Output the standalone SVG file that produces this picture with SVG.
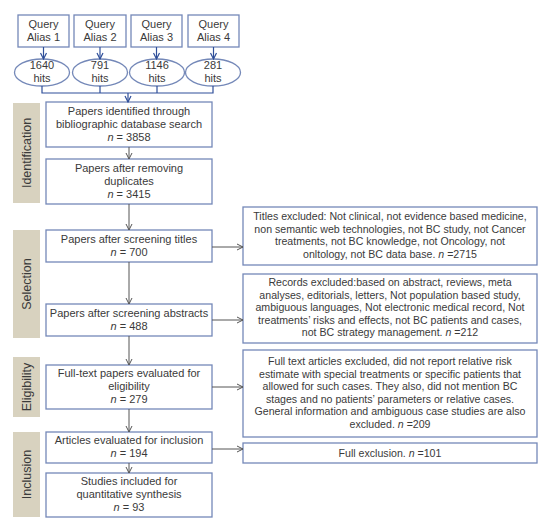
<svg xmlns="http://www.w3.org/2000/svg" width="550" height="528" viewBox="0 0 550 528">
<defs>
<marker id="ah" markerWidth="8" markerHeight="8" refX="7" refY="4" orient="auto" markerUnits="userSpaceOnUse">
<path d="M1,1 L7,4 L1,7" fill="none" stroke="#555" stroke-width="1"/>
</marker>
<marker id="ahb" markerWidth="8" markerHeight="8" refX="7" refY="4" orient="auto" markerUnits="userSpaceOnUse">
<path d="M1,1 L7,4 L1,7" fill="none" stroke="#2f4f9a" stroke-width="1.2"/>
</marker>
<style>
.bx{fill:#fff;stroke:#7488b8;stroke-width:1.3}
.t{font-family:"Liberation Sans",Arial,sans-serif;font-size:11px;fill:#3a3a3a;text-anchor:middle}
.r{font-family:"Liberation Sans",Arial,sans-serif;font-size:10.6px;fill:#3a3a3a;text-anchor:middle}
.side{fill:#d8d2bf}
.sl{font-family:"Liberation Sans",Arial,sans-serif;font-size:12.5px;fill:#3a3a3a;text-anchor:middle}
.c{fill:none;stroke:#555;stroke-width:1}
.cb{fill:none;stroke:#2f4f9a;stroke-width:1.2}
</style>
</defs>
<rect width="550" height="528" fill="#fff"/>

<g id="sides">
<g id="side-identification"><rect class="side" x="13" y="103" width="27" height="100"/><text class="sl" transform="translate(31,153) rotate(-90)">Identification</text></g>
<g id="side-selection"><rect class="side" x="13" y="230" width="27" height="108"/><text class="sl" transform="translate(31,284) rotate(-90)">Selection</text></g>
<g id="side-eligibility"><rect class="side" x="13" y="357" width="27" height="60"/><text class="sl" transform="translate(31,387) rotate(-90)">Eligibility</text></g>
<g id="side-inclusion"><rect class="side" x="13" y="432" width="27" height="85"/><text class="sl" transform="translate(31,474.5) rotate(-90)">Inclusion</text></g>
</g>

<g id="q1"><rect class="bx" x="18" y="15" width="51" height="32"/><text class="t" x="43.5" y="28">Query</text><text class="t" x="43.5" y="41">Alias 1</text></g>
<g id="q2"><rect class="bx" x="74" y="15" width="52" height="32"/><text class="t" x="100" y="28">Query</text><text class="t" x="100" y="41">Alias 2</text></g>
<g id="q3"><rect class="bx" x="131" y="15" width="51" height="32"/><text class="t" x="156.5" y="28">Query</text><text class="t" x="156.5" y="41">Alias 3</text></g>
<g id="q4"><rect class="bx" x="188" y="15" width="51" height="32"/><text class="t" x="213.5" y="28">Query</text><text class="t" x="213.5" y="41">Alias 4</text></g>

<g id="h1"><ellipse class="bx" cx="42" cy="72.5" rx="27.5" ry="13.5"/><text class="t" x="42" y="69">1640</text><text class="t" x="42" y="82">hits</text></g>
<g id="h2"><ellipse class="bx" cx="100" cy="72.5" rx="27.5" ry="13.5"/><text class="t" x="100" y="69">791</text><text class="t" x="100" y="82">hits</text></g>
<g id="h3"><ellipse class="bx" cx="157" cy="72.5" rx="27.5" ry="13.5"/><text class="t" x="157" y="69">1146</text><text class="t" x="157" y="82">hits</text></g>
<g id="h4"><ellipse class="bx" cx="213" cy="72.5" rx="27.5" ry="13.5"/><text class="t" x="213" y="69">281</text><text class="t" x="213" y="82">hits</text></g>

<g id="n1"><rect class="bx" x="46" y="102" width="166" height="45"/><text class="t" x="129" y="115">Papers identified through</text><text class="t" x="129" y="128">bibliographic database search</text><text class="t" x="129" y="141"><tspan font-style="italic">n</tspan> = 3858</text></g>
<g id="n2"><rect class="bx" x="46" y="159" width="166" height="45"/><text class="t" x="129" y="172">Papers after removing</text><text class="t" x="129" y="185">duplicates</text><text class="t" x="129" y="198"><tspan font-style="italic">n</tspan> = 3415</text></g>
<g id="n3"><rect class="bx" x="46" y="230" width="166" height="32"/><text class="t" x="129" y="243">Papers after screening titles</text><text class="t" x="129" y="256"><tspan font-style="italic">n</tspan> = 700</text></g>
<g id="n4"><rect class="bx" x="46" y="304" width="166" height="32"/><text class="t" x="129" y="317">Papers after screening abstracts</text><text class="t" x="129" y="330"><tspan font-style="italic">n</tspan> = 488</text></g>
<g id="n5"><rect class="bx" x="46" y="365" width="166" height="44"/><text class="t" x="129" y="377">Full-text papers evaluated for</text><text class="t" x="129" y="390">eligibility</text><text class="t" x="129" y="403"><tspan font-style="italic">n</tspan> = 279</text></g>
<g id="n6"><rect class="bx" x="46" y="432" width="166" height="31"/><text class="t" x="129" y="444">Articles evaluated for inclusion</text><text class="t" x="129" y="457"><tspan font-style="italic">n</tspan> = 194</text></g>
<g id="n7"><rect class="bx" x="46" y="473" width="166" height="44"/><text class="t" x="129" y="485">Studies included for</text><text class="t" x="129" y="498">quantitative synthesis</text><text class="t" x="129" y="511"><tspan font-style="italic">n</tspan> = 93</text></g>

<g id="e1"><rect class="bx" x="243" y="207" width="294" height="58"/>
<text class="r" x="390" y="220">Titles excluded: Not clinical, not evidence based medicine,</text>
<text class="r" x="390" y="232.5">non semantic web technologies, not BC study, not Cancer</text>
<text class="r" x="390" y="245">treatments, not BC knowledge, not Oncology, not</text>
<text class="r" x="390" y="257.5">onltology, not BC data base. <tspan font-style="italic">n</tspan> =2715</text></g>
<g id="e2"><rect class="bx" x="243" y="274" width="294" height="69"/>
<text class="r" x="390" y="286">Records excluded:based on abstract, reviews, meta</text>
<text class="r" x="390" y="298.5">analyses, editorials, letters, Not population based study,</text>
<text class="r" x="390" y="311">ambiguous languages, Not electronic medical record,  Not</text>
<text class="r" x="390" y="323.5">treatments’ risks and effects, not BC patients and cases,</text>
<text class="r" x="390" y="336">not BC strategy management.  <tspan font-style="italic">n</tspan> =212</text></g>
<g id="e3"><rect class="bx" x="243" y="350" width="294" height="87"/>
<text class="r" x="390" y="365">Full text articles excluded, did not report  relative risk</text>
<text class="r" x="390" y="377.5">estimate with special treatments  or specific patients that</text>
<text class="r" x="390" y="390">allowed for such cases. They also, did not mention BC</text>
<text class="r" x="390" y="402.5">stages and no patients’ parameters  or relative cases.</text>
<text class="r" x="390" y="415">General information and ambiguous case studies are also</text>
<text class="r" x="390" y="427.5">excluded. <tspan font-style="italic">n</tspan> =209</text></g>
<g id="e4"><rect class="bx" x="243" y="443" width="294" height="20"/><text class="r" x="390" y="457">Full exclusion. <tspan font-style="italic">n</tspan> =101</text></g>

<g id="connectors">
<path class="cb" d="M43.5,47 V59" marker-end="url(#ahb)"/>
<path class="cb" d="M100,47 V59" marker-end="url(#ahb)"/>
<path class="cb" d="M156.5,47 V59" marker-end="url(#ahb)"/>
<path class="cb" d="M213.5,47 V59" marker-end="url(#ahb)"/>
<path class="cb" d="M42,86 V93 H213 V86 M100,86 V93 M157,86 V93"/>
<path class="cb" d="M128,93 V102" marker-end="url(#ahb)"/>
<path class="c" d="M129,147 V159" marker-end="url(#ah)"/>
<path class="c" d="M129,204 V230" marker-end="url(#ah)"/>
<path class="c" d="M129,262 V304" marker-end="url(#ah)"/>
<path class="c" d="M129,336 V365" marker-end="url(#ah)"/>
<path class="c" d="M129,409 V432" marker-end="url(#ah)"/>
<path class="c" d="M129,463 V473" marker-end="url(#ah)"/>
<path class="c" d="M212,247 H243" marker-end="url(#ah)"/>
<path class="c" d="M212,320 H243" marker-end="url(#ah)"/>
<path class="c" d="M212,387 H243" marker-end="url(#ah)"/>
<path class="c" d="M212,449 H243" marker-end="url(#ah)"/>
</g>
</svg>
